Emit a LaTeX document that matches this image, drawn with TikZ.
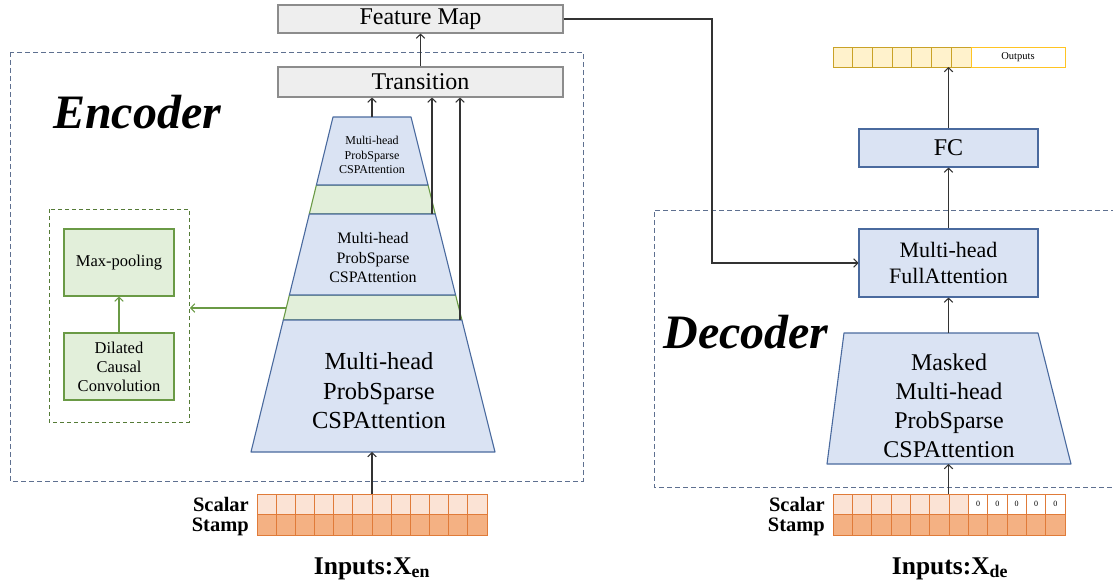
\documentclass[tikz,border=0pt]{standalone}
\usepackage{fontspec}
\setmainfont{Liberation Serif}
\usetikzlibrary{arrows.meta}
\definecolor{bfill}{HTML}{DAE3F3}
\definecolor{bline}{HTML}{4A6A9E}
\definecolor{gfill}{HTML}{E2EFDA}
\definecolor{gline}{HTML}{6A9A45}
\definecolor{grfill}{HTML}{EEEEEE}
\definecolor{grline}{HTML}{8C8C8C}
\definecolor{dashc}{HTML}{5E7090}
\definecolor{ofill1}{HTML}{FBE3D5}
\definecolor{ofill2}{HTML}{F4B183}
\definecolor{oline}{HTML}{E07B39}
\definecolor{yfill}{HTML}{FFF2CC}
\definecolor{yline}{HTML}{C9A227}
\definecolor{yline2}{HTML}{FFC423}
\newcommand{\fs}[2]{\fontsize{#1}{#2}\selectfont}
\begin{document}
\begin{tikzpicture}[x=1pt,y=-1pt,
  arr/.style={-{Straight Barb[length=4pt,width=8.5pt]}, line width=1.1pt, draw=black!80},
  garr/.style={-{Straight Barb[length=4pt,width=8.5pt]}, line width=1.1pt, draw=gline},
  graybox/.style={draw=grline, fill=grfill, line width=1.1pt, inner sep=0pt},
  bluebox/.style={draw=bline, fill=bfill, line width=1.1pt, inner sep=0pt, align=center},
  greenbox/.style={draw=gline, fill=gfill, line width=1.1pt, inner sep=0pt, align=center},
  lbl/.style={inner sep=0pt, align=center},
  sslbl/.style={inner sep=0pt, anchor=base east, font=\fs{20.5}{22}\bfseries},
  bigdash/.style={draw=dashc, line width=1pt, dash pattern=on 5pt off 3pt},
  gdash/.style={draw=gline!80!black, line width=1pt, dash pattern=on 4pt off 3pt},
  bandblue/.style={draw=bline, fill=bfill, line width=1.1pt, line join=round},
  bandgreen/.style={draw=gline, fill=gfill, line width=1.1pt, line join=round}
]
\useasboundingbox (0,0) rectangle (1113,587);

% ---------- Encoder frame ----------
\draw[bigdash] (10,52) rectangle (583,481);
\node[lbl, font=\fs{48}{52}\bfseries\itshape] (enc) at (137,112) {Encoder};

% ---------- Feature map / Transition ----------
\node[graybox, minimum width=285pt, minimum height=28pt, font=\fs{24}{28}] (fm) at (420.5,19) {Feature Map};
\node[graybox, minimum width=285pt, minimum height=30pt, font=\fs{24}{28}] (tr) at (420.5,82) {Transition};

% ---------- Encoder trapezoid (bands) ----------
\draw[bandgreen] (316.4,185) -- (428.0,185) -- (435.3,214) -- (309.3,214) -- cycle;
\draw[bandgreen] (289.4,295) -- (455.6,295) -- (461.9,320) -- (283.3,320) -- cycle;
\draw[bandblue] (333,117) -- (411,117) -- (428.0,185) -- (316.4,185) -- cycle;
\draw[bandblue] (309.3,214) -- (435.3,214) -- (455.6,295) -- (289.4,295) -- cycle;
\draw[bandblue] (283.3,320) -- (461.9,320) -- (495,452) -- (251,452) -- cycle;
\coordinate (t1top) at (372,117);
\coordinate (b1) at (432,214);
\coordinate (b2) at (460,320);
\coordinate (g2left) at (286.3,308);
\coordinate (encbot) at (372,452);
\node[lbl, font=\fs{12}{14.5}] (e1) at (372,155) {Multi-head\\ProbSparse\\CSPAttention};
\node[lbl, font=\fs{16}{19.5}] (e2) at (373,258) {Multi-head\\ProbSparse\\CSPAttention};
\node[lbl, font=\fs{24.5}{29.5}] (e3) at (379,391) {Multi-head\\ProbSparse\\CSPAttention};

\draw[arr] (t1top) -- (t1top |- tr.south);
\draw[arr] (b1) -- (b1 |- tr.south);
\draw[arr] (b2) -- (b2 |- tr.south);
\draw[arr] (tr.north) -- (fm.south);

% ---------- distilling block ----------
\draw[gdash] (49,209) rectangle (189,422);
\coordinate (gbox) at (190,308);
\node[greenbox, minimum width=110pt, minimum height=67pt, font=\fs{16.5}{19}] (mp) at (119,262.5) {Max-pooling};
\node[greenbox, minimum width=110pt, minimum height=67pt, font=\fs{16.5}{19}] (dc) at (119,366.5) {Dilated\\Causal\\Convolution};
\draw[garr] (dc.north) -- (mp.south);
\draw[garr] (g2left) -- (gbox);

% ---------- Encoder inputs ----------
\foreach \i in {0,...,11}{
  \draw[draw=oline, fill=ofill1, line width=0.9pt] ({257+\i*19.1667},494) rectangle ({257+(\i+1)*19.1667},514);
  \draw[draw=oline, fill=ofill2, line width=0.9pt] ({257+\i*19.1667},514) rectangle ({257+(\i+1)*19.1667},535);
}
\coordinate (einp) at (372,494);
\draw[arr] (einp) -- (encbot);
\node[sslbl] (sc1) at (249,511) {Scalar};
\node[sslbl] (st1) at (249,531) {Stamp};
\node[anchor=base, inner sep=0pt, font=\fs{25.5}{28}\bfseries] (in1) at (372,574) {Inputs:X\textsubscript{en}};

% ---------- Decoder ----------
\draw[bigdash] (1116,210) -- (654,210) -- (654,487) -- (1116,487);
\node[lbl, font=\fs{48}{52}\bfseries\itshape] (dec) at (746,332) {Decoder};

\draw[bandblue] (844,333) -- (1038,333) -- (1071,464) -- (827,464) -- cycle;
\coordinate (dtop) at (948.5,333);
\coordinate (dbot) at (948.5,464);
\node[lbl, font=\fs{24}{29}] (d1) at (949,405.5) {Masked\\Multi-head\\ProbSparse\\CSPAttention};

\node[bluebox, minimum width=179pt, minimum height=68pt, font=\fs{22}{26}] (fa) at (948.5,263) {Multi-head\\FullAttention};
\node[bluebox, minimum width=179pt, minimum height=38pt, font=\fs{24}{28}] (fc) at (948.5,148) {FC};

% outputs
\foreach \i in {0,...,6}{
  \draw[draw=yline, fill=yfill, line width=0.9pt] ({833+\i*19.714},47) rectangle ({833+(\i+1)*19.714},67);
}
\node[draw=yline2, fill=white, line width=0.9pt, minimum width=94pt, minimum height=20pt, inner sep=0pt, font=\fs{10.5}{12}] (outp) at (1018,57) {Outputs};
\coordinate (outbot) at (948.5,67);

\draw[arr] (dtop) -- (fa.south);
\draw[arr] (fa.north) -- (fc.south);
\draw[arr] (fc.north) -- (outbot);
\coordinate (bend) at (712,0);
\draw[arr] (fm.east) -| (bend |- fa.west) -- (fa.west);

% decoder inputs
\foreach \i in {0,...,6}{
  \draw[draw=oline, fill=ofill1, line width=0.9pt] ({833+\i*19.333},494) rectangle ({833+(\i+1)*19.333},514);
}
\foreach \i in {7,...,11}{
  \draw[draw=oline, fill=white, line width=0.9pt] ({833+\i*19.333},494) rectangle ({833+(\i+1)*19.333},514);
  \node[lbl, font=\fs{8}{9}] at ({833+(\i+0.5)*19.333},504) {0};
}
\foreach \i in {0,...,11}{
  \draw[draw=oline, fill=ofill2, line width=0.9pt] ({833+\i*19.333},514) rectangle ({833+(\i+1)*19.333},535);
}
\coordinate (dinp) at (948.5,494);
\draw[arr] (dinp) -- (dbot);
\node[sslbl] (sc2) at (825,511) {Scalar};
\node[sslbl] (st2) at (825,531) {Stamp};
\node[anchor=base, inner sep=0pt, font=\fs{25.5}{28}\bfseries] (in2) at (950,574) {Inputs:X\textsubscript{de}};
\end{tikzpicture}
\end{document}
